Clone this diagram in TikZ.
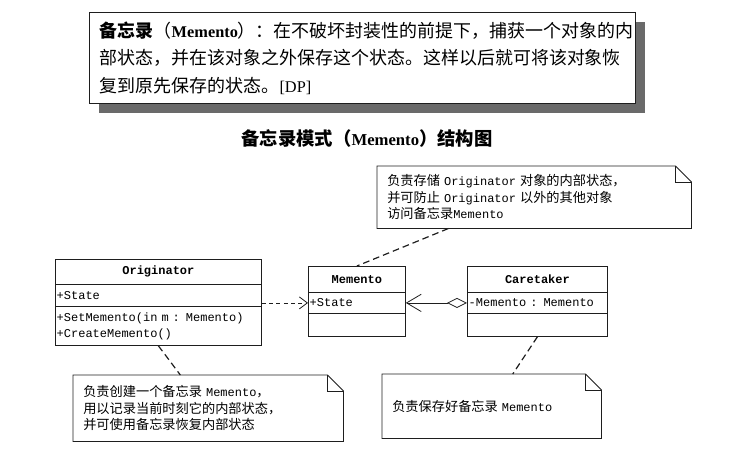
\documentclass[tikz,border=0pt]{standalone}
\usepackage{fontspec}
\setmainfont{Liberation Serif}
\setmonofont{Liberation Mono}
\newfontfamily\cjk[Scale=1.1]{Noto Sans CJK SC}
\usetikzlibrary{arrows.meta,shadows}
\definecolor{linecol}{HTML}{1E1E1E}
\definecolor{shadecol}{HTML}{6A6A6A}
\newcommand\zh[1]{{\cjk #1}}
% note outline with folded corner
\newcommand\notefold[1]{%
  \draw[notepath] ([xshift=-12pt]#1.north east) -- (#1.north west) -- (#1.south west)
    -- (#1.south east) -- ([yshift=-12pt]#1.north east) -- cycle;
  \draw[notepath] ([xshift=-12pt]#1.north east) |- ([yshift=-12pt]#1.north east);}

\begin{document}
\begin{tikzpicture}[x=0.75pt,y=-0.75pt,
  umlpart/.style={draw=linecol,line width=0.6pt,anchor=north west,inner xsep=1pt,inner ysep=0pt,
    font=\ttfamily\fontsize{9}{12}\selectfont},
  notetext/.style={anchor=north west,inner xsep=7.5pt,inner ysep=0pt,align=left,
    font=\ttfamily\fontsize{9}{12.4}\selectfont},
  notepath/.style={draw=linecol,line width=0.6pt},
  notelink/.style={linecol,line width=0.9pt,dash pattern=on 5pt off 3pt},
]
\useasboundingbox (0,0) rectangle (742,457);

% definition box
\node[draw=linecol,line width=0.8pt,fill=white,anchor=north west,minimum height=68.25pt,
  text width=394pt,inner xsep=7.75pt,align=left,font=\fontsize{12.25}{20.6}\selectfont,
  drop shadow={shadow xshift=7pt,shadow yshift=-7pt,fill=shadecol,opacity=1}] (defbox) at (89,12)
  {\textbf{\zh{备忘录}}\zh{（}\textbf{Memento}\zh{）：在不破坏封装性的前提下，捕获一个对象的内}\\
   \zh{部状态，并在该对象之外保存这个状态。这样以后就可将该对象恢}\\
   \zh{复到原先保存的状态。}[DP]};

\node[font=\bfseries\fontsize{12.5}{15}\selectfont] (title) at (367,138)
  {\zh{备忘录模式（}Memento\zh{）结构图}};

% class compartments
\foreach \id/\x/\y/\w/\h/\al/\txt in {
  orig-head/55/259/206/25/center/\textbf{Originator},
  orig-attr/55/284/206/22/left/+State,
  orig-ops/55/306/206/39/left/{+SetMemento(in m : Memento)\\+CreateMemento()},
  mem-head/308/266/97/26/center/\textbf{Memento},
  mem-attr/308/292/97/21/left/+State,
  mem-ops/308/313/97/23/left/{},
  care-head/467/266/140/26/center/\textbf{Caretaker},
  care-attr/467/292/140/21/left/-Memento : Memento,
  care-ops/467/313/140/23/left/{}%
  }{
  \pgfmathsetmacro\tw{\w*0.75-2}
  \pgfmathsetmacro\th{\h*0.75}
  \node[umlpart,minimum height=\th pt,text width=\tw pt,align=\al] (\id) at (\x,\y) {\txt};
  }

\draw[linecol,line width=0.6pt,dash pattern=on 3pt off 2.5pt,-{Straight Barb[length=6pt,width=9pt]}]
  (orig-attr.east |- mem-attr.west) -- (mem-attr.west);
\draw[linecol,line width=0.6pt,{Diamond[open,length=15pt,width=7.5pt]}-{Straight Barb[length=11pt,width=13pt]}]
  (care-attr.west) -- (mem-attr.east);

% notes
\node[notetext,minimum width=235.5pt,minimum height=46.5pt,text width=220.5pt] (note1) at (377,166)
  {\zh{负责存储} Originator \zh{对象的内部状态，}\\
   \zh{并可防止} Originator \zh{以外的其他对象}\\
   \zh{访问备忘录}Memento};
\node[notetext,minimum width=202.5pt,minimum height=49.5pt,text width=187.5pt] (note2) at (73,375)
  {\zh{负责创建一个备忘录} Memento\zh{，}\\
   \zh{用以记录当前时刻它的内部状态，}\\
   \zh{并可使用备忘录恢复内部状态}};
\node[notetext,minimum width=164.25pt,minimum height=48pt,text width=149.25pt] (note3) at (382,374)
  {\zh{负责保存好备忘录} Memento};
\notefold{note1}
\notefold{note2}
\notefold{note3}

\draw[notelink] (note1.200) -- (mem-head.north);
\draw[notelink] (orig-ops.south) -- (note2.130);
\draw[notelink] (care-ops.south) -- (note3.57);
\end{tikzpicture}
\end{document}
